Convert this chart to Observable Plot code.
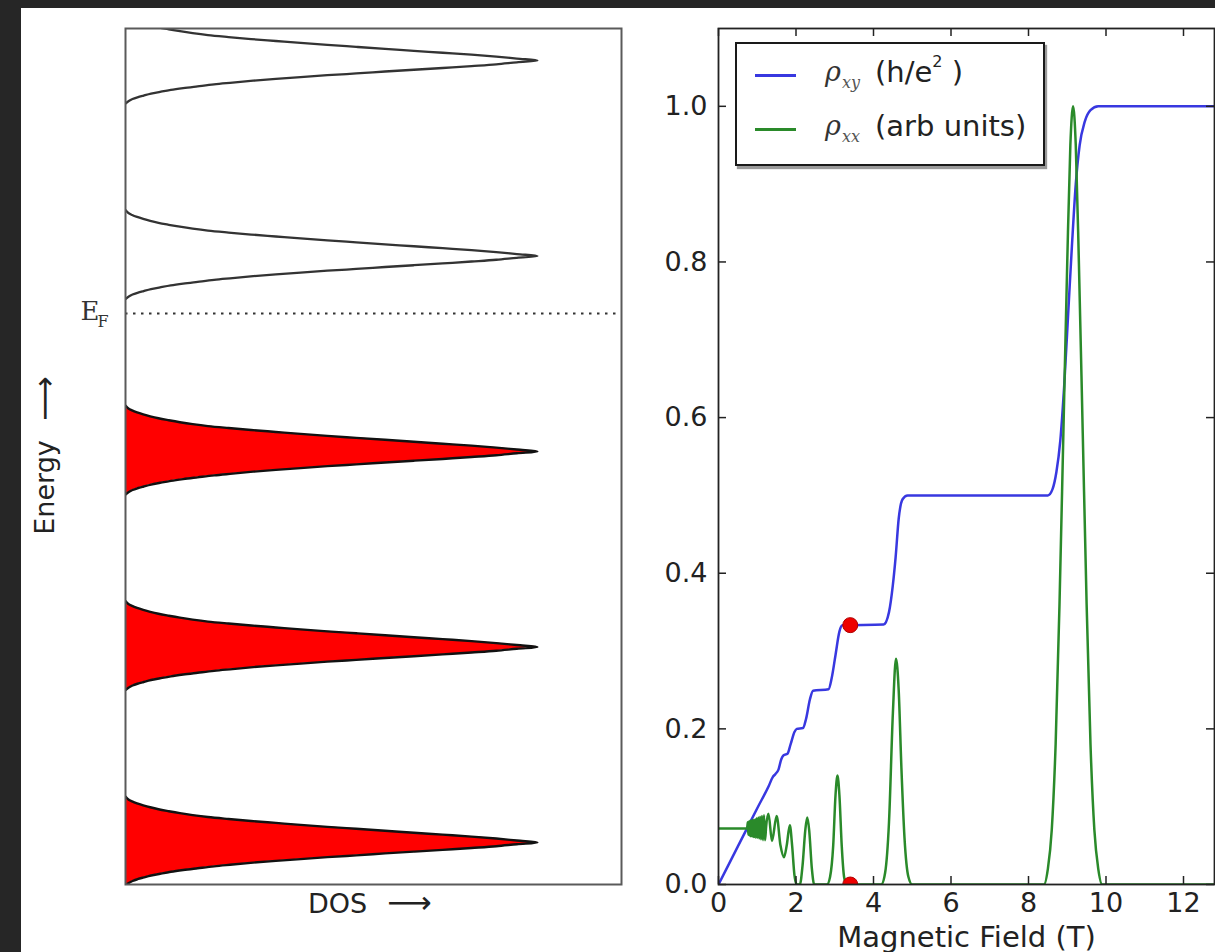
<!DOCTYPE html>
<html>
<head>
<meta charset="utf-8">
<script src="https://cdn.jsdelivr.net/npm/d3@7"></script>
<script src="https://cdn.jsdelivr.net/npm/@observablehq/plot@0.6"></script>
<style>
  html, body { margin: 0; padding: 0; background: #262626; overflow: hidden; width: 1215px; height: 952px; }
  #page { position: absolute; left: 21px; top: 8px; width: 1194px; height: 944px; background: #fff; }
  #left { position: absolute; left: 0; top: 0; width: 640px; height: 952px; }
  #right { position: absolute; left: 640px; top: 0; width: 580px; height: 952px; }
  #legend { position: absolute; left: 735px; top: 42px; width: 310px; height: 124px; box-sizing: border-box;
            border: 2.5px solid #1a1a1a; background: #fff; box-shadow: 2px 3px 1px #9a9a9a; }
  #legend .row { position: absolute; left: 0; height: 40px; width: 300px; }
  #legend .sample { position: absolute; left: 18px; top: 18px; width: 41px; height: 2.5px; }
  #legend .rho { position: absolute; left: 88px; top: 0px; font-family: "DejaVu Serif"; font-style: italic; font-size: 27px; color: #333; }
  #legend .sub { position: absolute; left: 105px; top: 17px; font-family: "DejaVu Serif"; font-style: italic; font-size: 16px; color: #555; }
  #legend .txt { position: absolute; left: 138px; top: -1px; font-family: "DejaVu Sans"; font-size: 29px; color: #222; white-space: nowrap; }
  #legend .txt sup { font-size: 16px; position: relative; top: -4px; }
</style>
</head>
<body>
<div id="page"></div>
<div id="left"></div>
<div id="right"></div>
<div id="legend">
  <div class="row" style="top:12px">
    <div class="sample" style="background:#3838e0"></div>
    <span class="rho">ρ</span><span class="sub">xy</span>
    <span class="txt">(h/e<sup>2</sup> )</span>
  </div>
  <div class="row" style="top:66px">
    <div class="sample" style="background:#2a8a2a"></div>
    <span class="rho">ρ</span><span class="sub">xx</span>
    <span class="txt">(arb units)</span>
  </div>
</div>
<script>
// ---------- Left panel: density of states ----------
const levelEnergy = [0.5, 1.5, 2.5, 3.5, 4.5];          // Landau level centres
const fermiEnergy = 3.206;                               // dotted E_F line
const energyDomain = [0.285, 4.664];
const dosDomain = [0, 1.204];
// one broadened peak (energy offset from the level, DOS)
const peakOffset = [-0.22, -0.207, -0.197, -0.188, -0.179, -0.169, -0.16, -0.15, -0.141, -0.132, -0.122, -0.113,
                    -0.103, -0.094, -0.085, -0.075, -0.066, -0.056, -0.047, -0.038, -0.028, -0.019, -0.009, 0,
                    0.01, 0.02, 0.03, 0.04, 0.05, 0.06, 0.07, 0.08, 0.09, 0.10, 0.11, 0.12,
                    0.13, 0.14, 0.15, 0.16, 0.17, 0.18, 0.19, 0.20, 0.21, 0.22, 0.235];
const peakDos    = [0, 0.008, 0.017, 0.029, 0.044, 0.062, 0.084, 0.11, 0.14, 0.175, 0.215, 0.26,
                    0.31, 0.365, 0.425, 0.49, 0.56, 0.63, 0.70, 0.77, 0.84, 0.9, 0.95, 1,
                    0.95, 0.9, 0.84, 0.77, 0.70, 0.63, 0.56, 0.49, 0.425, 0.365, 0.305, 0.25,
                    0.20, 0.163, 0.132, 0.105, 0.08, 0.06, 0.043, 0.028, 0.016, 0.007, 0];

// ---------- Right panel: quantum Hall resistivities ----------
const fieldTicks = [0, 2, 4, 6, 8, 10, 12];
const rhoTicks = [0, 0.2, 0.4, 0.6, 0.8, 1.0];
const fieldDomain = [0, 12.8];
const rhoDomain = [0, 1.1];

const rhoXYField = [0, 0.5, 1.0, 1.3, 1.4, 1.47, 1.55, 1.62, 1.68, 1.78, 1.86, 1.96, 2.02, 2.18, 2.26, 2.36, 2.44,
                    2.84, 2.92, 3.02, 3.12, 3.2, 4.26, 4.4, 4.5, 4.57, 4.65, 4.75, 4.88, 8.5, 8.62, 8.72, 8.82,
                    8.92, 9.02, 9.12, 9.22, 9.32, 9.45, 9.6, 9.8, 12.8];
const rhoXYValue = [0, 0.049, 0.098, 0.127, 0.138, 0.142, 0.148, 0.161, 0.166, 0.168, 0.18, 0.196, 0.2, 0.201, 0.213, 0.238, 0.249,
                    0.251, 0.265, 0.295, 0.325, 0.333, 0.334, 0.35, 0.385, 0.42, 0.47, 0.495, 0.5, 0.5, 0.508, 0.53, 0.57,
                    0.64, 0.73, 0.82, 0.9, 0.95, 0.98, 0.995, 1.0, 1.0];

const rhoXXField = [0, 0.74, 0.755, 0.77, 0.785, 0.80, 0.815, 0.83, 0.846, 0.862, 0.878, 0.895, 0.912, 0.93, 0.948, 0.967,
                    0.986, 1.006, 1.027, 1.049, 1.072, 1.096, 1.121, 1.147, 1.174, 1.202, 1.23,
                    1.29, 1.38, 1.5, 1.6, 1.69, 1.76, 1.84, 1.9, 1.96, 2.02, 2.1, 2.17, 2.24, 2.29, 2.34, 2.41, 2.47,
                    2.8, 2.88, 2.96, 3.02, 3.07, 3.12, 3.18, 3.24, 3.3, 4.2, 4.3, 4.4, 4.5, 4.58, 4.65, 4.72, 4.8, 4.9, 5.0,
                    8.4, 8.5, 8.6, 8.7, 8.8, 8.9, 9.0, 9.08, 9.15, 9.22, 9.3, 9.4, 9.5, 9.6, 9.7, 9.8, 9.9, 12.8];
const rhoXXValue = [0.072, 0.072, 0.080, 0.064, 0.081, 0.063, 0.082, 0.062, 0.082, 0.062, 0.083, 0.061, 0.083, 0.061, 0.084, 0.060,
                    0.085, 0.060, 0.086, 0.059, 0.087, 0.058, 0.088, 0.057, 0.089, 0.057, 0.075,
                    0.091, 0.056, 0.088, 0.05, 0.035, 0.05, 0.076, 0.05, 0.012, 0, 0, 0.025, 0.07, 0.086, 0.07, 0.02, 0,
                    0, 0.01, 0.05, 0.115, 0.14, 0.115, 0.05, 0.01, 0, 0, 0.015, 0.08, 0.22, 0.29, 0.25, 0.15, 0.06, 0.01, 0,
                    0, 0.02, 0.07, 0.18, 0.36, 0.58, 0.8, 0.95, 1.0, 0.95, 0.8, 0.58, 0.36, 0.18, 0.07, 0.02, 0, 0];

const markerField = [3.4, 3.4];
const markerValue = [0.3333, 0];

// ---------- build tables ----------
const dosRows = levelEnergy.flatMap((e0, level) =>
  peakOffset.map((d, j) => ({level, energy: e0 + d, dos: peakDos[j], occupied: e0 < fermiEnergy})));
const filledRows = dosRows.filter(d => d.occupied);
const emptyRows = dosRows.filter(d => !d.occupied);
const xyRows = rhoXYField.map((b, i) => ({field: b, rho: rhoXYValue[i]}));
const xxRows = rhoXXField.map((b, i) => ({field: b, rho: rhoXXValue[i]}));
const markerRows = markerField.map((b, i) => ({field: b, rho: markerValue[i]}));

const baseStyle = {background: "transparent", fontFamily: "DejaVu Sans", fontSize: "27px", color: "#222", overflow: "visible"};

const left = Plot.plot({
  width: 640, height: 952,
  marginLeft: 125, marginRight: 19, marginTop: 28, marginBottom: 68,
  x: {domain: dosDomain, axis: null},
  y: {domain: energyDomain, axis: null},
  style: baseStyle,
  marks: [
    Plot.areaX(filledRows, {x: "dos", y: "energy", z: "level", fill: "#ff0000", curve: "catmull-rom", clip: true}),
    Plot.lineX(filledRows, {x: "dos", y: "energy", z: "level", stroke: "#111", strokeWidth: 2.4, curve: "catmull-rom", clip: true}),
    Plot.lineX(emptyRows, {x: "dos", y: "energy", z: "level", stroke: "#333", strokeWidth: 2.3, curve: "catmull-rom", clip: true}),
    Plot.ruleY([fermiEnergy], {stroke: "#333", strokeWidth: 2, strokeDasharray: "2.5,5.5"}),
    Plot.frame({stroke: "#5a5a5a", strokeWidth: 2}),
    Plot.text([fermiEnergy], {y: d => d, text: () => "E", frameAnchor: "left", dx: -26, dy: -2, textAnchor: "end",
      fontFamily: "DejaVu Serif", fontSize: 26, fill: "#333"}),
    Plot.text([fermiEnergy], {y: d => d, text: () => "F", frameAnchor: "left", dx: -28, dy: 8, textAnchor: "start",
      fontFamily: "DejaVu Serif", fontSize: 16, fill: "#333"}),
    Plot.text(["Energy"], {frameAnchor: "left", dx: -80, dy: 31, rotate: -90, textAnchor: "middle", fill: "#222"}),
    Plot.text(["\u27F6"], {frameAnchor: "left", dx: -80, dy: -58, rotate: -90, textAnchor: "middle", fontSize: 31, fill: "#222"}),
    Plot.text(["DOS"], {frameAnchor: "bottom", dx: -36, dy: 28, textAnchor: "middle", fill: "#222"}),
    Plot.text(["\u27F6"], {frameAnchor: "bottom", dx: 36, dy: 28, textAnchor: "middle", fontSize: 31, fill: "#222"})
  ]
});
document.getElementById("left").appendChild(left);

const right = Plot.plot({
  width: 580, height: 952,
  marginLeft: 78, marginRight: 6, marginTop: 28, marginBottom: 68,
  x: {domain: fieldDomain, label: null},
  y: {domain: rhoDomain, label: null},
  style: baseStyle,
  marks: [
    Plot.line(xyRows, {x: "field", y: "rho", stroke: "#3838e0", strokeWidth: 2.5, curve: "monotone-x", clip: true}),
    Plot.line(xxRows, {x: "field", y: "rho", stroke: "#2a8a2a", strokeWidth: 2.5, curve: "monotone-x", clip: true}),
    Plot.dot(markerRows, {x: "field", y: "rho", r: 7.5, fill: "#ee0000", stroke: "#b00000", strokeWidth: 1, clip: true}),
    Plot.frame({stroke: "#222", strokeWidth: 1.8}),
    Plot.tickX(fieldTicks, {x: d => d, insetTop: 848, stroke: "#222", strokeWidth: 1.5}),
    Plot.tickX(fieldTicks, {x: d => d, insetBottom: 848, stroke: "#222", strokeWidth: 1.5}),
    Plot.tickY(rhoTicks, {y: d => d, insetRight: 488, stroke: "#222", strokeWidth: 1.5}),
    Plot.tickY(rhoTicks, {y: d => d, insetLeft: 488, stroke: "#222", strokeWidth: 1.5}),
    Plot.axisX(fieldTicks, {tickSize: 0, tickPadding: 8, tickFormat: d3.format("d"), label: null}),
    Plot.axisY(rhoTicks, {tickSize: 0, tickPadding: 11, tickFormat: d3.format(".1f"), label: null}),
    Plot.text(["Magnetic Field (T)"], {frameAnchor: "bottom", dy: 62, textAnchor: "middle", fontSize: 29, fill: "#222"})
  ]
});
document.getElementById("right").appendChild(right);
</script>
</body>
</html>
